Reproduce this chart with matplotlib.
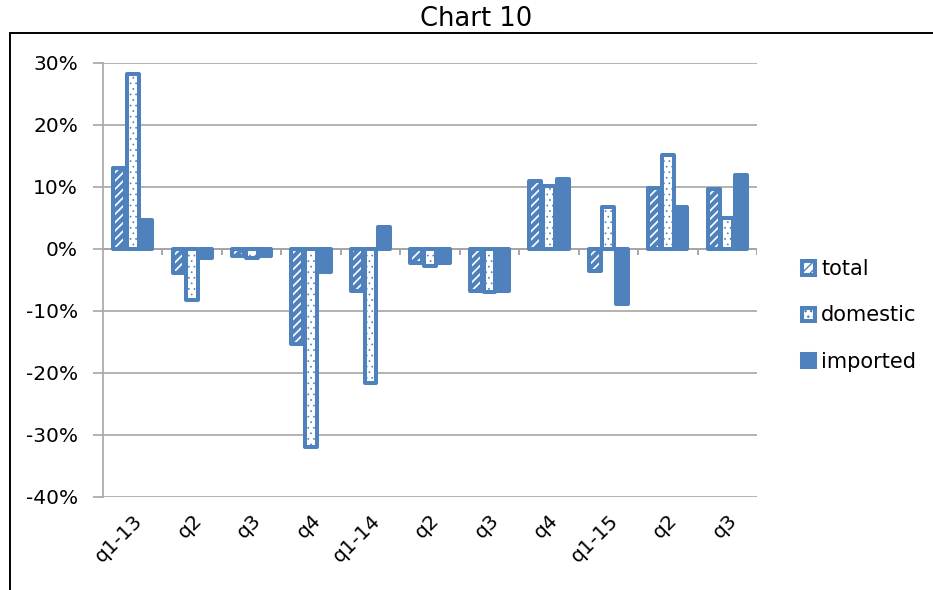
import numpy as np
import matplotlib.pyplot as plt
from matplotlib.patches import Rectangle

quarters = ["q1-13", "q2", "q3", "q4", "q1-14", "q2", "q3", "q4", "q1-15", "q2", "q3"]
total = [13.0, -3.8, -1.2, -15.3, -6.7, -2.3, -6.8, 11.0, -3.6, 9.8, 9.6]
domestic = [28.2, -8.3, -1.5, -32.0, -21.6, -2.8, -7.0, 10.2, 6.8, 15.2, 5.0]
imported = [4.6, -1.5, -1.2, -3.7, 3.6, -2.3, -6.8, 11.3, -8.9, 6.8, 12.0]

blue = "#4F81BD"
grid_c = "#A6A6A6"

plt.rcParams["font.family"] = ["DejaVu Sans"]

fig = plt.figure(figsize=(9.33, 5.90), dpi=100)
ax = fig.add_axes([103 / 933, 1 - 497 / 590, 654 / 933, 434 / 590])

x = np.arange(len(quarters))
step = 0.23
w = 0.20
series = [
    (total, "total", "white", "////", 3.0),
    (domestic, "domestic", "white", "...", 0.5),
    (imported, "imported", blue, None, 1.0),
]
handles = []
for i, (vals, name, fc, hatch, hlw) in enumerate(series):
    with plt.rc_context({"hatch.linewidth": hlw, "hatch.color": blue}):
        bars = ax.bar(x + (i - 1) * step, np.array(vals) / 100, width=w,
                      facecolor=fc, edgecolor=blue, hatch=hatch,
                      linewidth=2.9, joinstyle="round", label=name, zorder=3)
    for b in bars:
        if hasattr(b, "set_hatch_linewidth"):
            b.set_hatch_linewidth(hlw)
    handles.append(bars)

ax.set_xlim(-0.5, len(quarters) - 0.5)
ax.set_ylim(-0.4, 0.3)
ticks = np.arange(-40, 31, 10)
ax.set_yticks(ticks / 100)
ax.set_yticklabels([f"{t:d}%" for t in ticks], fontsize=14.5)
ax.yaxis.grid(True, color=grid_c, linewidth=1.2, zorder=0)
ax.tick_params(axis="y", length=7, color=grid_c, width=1.2, pad=11)

# zero axis with boundary tick marks
ax.axhline(0, color=grid_c, linewidth=1.4, zorder=2)
ax.vlines(x + 0.5, -0.009, 0, color=grid_c, linewidth=1.4, zorder=2)

ax.set_xticks(x)
ax.set_xticklabels(quarters, rotation=45, ha="right", rotation_mode="anchor",
                   fontsize=14.5)
ax.tick_params(axis="x", length=0, pad=10)

for s in ["top", "right", "bottom"]:
    ax.spines[s].set_visible(False)
ax.spines["left"].set_color(grid_c)
ax.spines["left"].set_linewidth(1.2)

fig.legend(handles=handles, loc="upper left", bbox_to_anchor=(792 / 933, 1 - 249 / 590),
           frameon=False, fontsize=15, handlelength=0.6, handleheight=0.6,
           handletextpad=0.3, labelspacing=1.25, borderpad=0)

fig.text(476 / 933, 1 - 19 / 590, "Chart 10", ha="center", va="center", fontsize=18.5)
fig.patches.append(Rectangle((10 / 933, -0.05), 1.1, 1 - 33 / 590 + 0.05,
                             transform=fig.transFigure, fill=False,
                             edgecolor="black", linewidth=1.4))

fig.savefig("out.png", dpi=100)
